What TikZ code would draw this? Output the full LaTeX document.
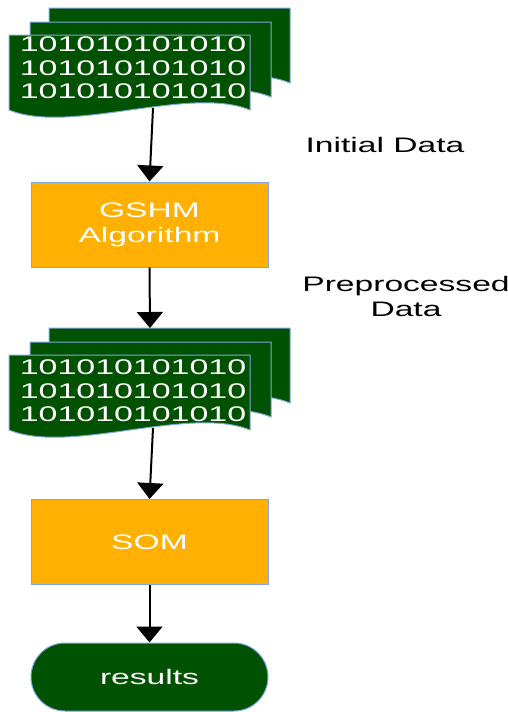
\documentclass[tikz,border=0pt]{standalone}
\usepackage{fontspec}
\usepackage{xcolor}
\usepackage{tikz}
\usetikzlibrary{positioning, arrows.meta}
\newfontfamily\widesans[FakeStretch=1.6]{Liberation Sans}
\definecolor{sheetgreen}{RGB}{0, 82, 0}
\definecolor{boxorange}{RGB}{255, 176, 0}
\definecolor{edgeblue}{RGB}{126, 166, 224}

\tikzset{
  sheet/.style={draw=edgeblue, line width=0.5pt, fill=sheetgreen},
  bits/.style={text=white, align=center, inner sep=0pt,
    font=\widesans\fontsize{10.6pt}{11.75pt}\selectfont},
  procbox/.style={draw=edgeblue, line width=0.5pt, fill=boxorange,
    minimum width=118.5pt, minimum height=42.5pt, text=white, align=center,
    font=\widesans\fontsize{10.5pt}{12.5pt}\selectfont},
  endbox/.style={draw=edgeblue, line width=0.5pt, fill=sheetgreen,
    rounded corners=17pt, minimum width=118.5pt, minimum height=34pt,
    text=white, font=\widesans\fontsize{10.5pt}{12.5pt}\selectfont},
  note/.style={align=center, font=\widesans\fontsize{10.5pt}{12.5pt}\selectfont},
  flow/.style={line width=1pt, -{Triangle[width=13pt,length=8pt]}}
}

\begin{document}
\begin{tikzpicture}[x=0.5pt, y=-0.5pt]
    \useasboundingbox (0,0) rectangle (508,712);

    % stacked data sheets
    \foreach \yoff/\name/\ty in {0/initdata/68, 320/prepdata/391} {
        \foreach \dx/\dy in {40/-27, 21/-13, 0/0} {
            \draw[sheet, shift={(\dx,\dy+\yoff)}] (9,35) -- (250,35) -- (250,110)
                .. controls (190,85) and (70,135) .. (9,110) -- cycle;
        }
        \node[bits] (\name) at (133,\ty) {101010101010\\101010101010\\101010101010};
        \coordinate (\name-top) at (150,8+\yoff);
        \coordinate (\name-foot) at (153,108+\yoff);
    }

    \node[procbox] (gshm) at (149.5,224.5) {GSHM\\Algorithm};
    \node[procbox] (som) at (149.5,542) {SOM};
    \node[endbox] (results) at (149.5,677) {results};

    \node[note] (initlabel) at (385,145) {Initial Data};
    \node[note] (preplabel) at (406,296) {Preprocessed\\Data};

    \draw[flow] (initdata-foot) -- (gshm.north);
    \draw[flow] (gshm.south) -- (prepdata-top);
    \draw[flow] (prepdata-foot) -- (som.north);
    \draw[flow] (som.south) -- (results.north);
\end{tikzpicture}
\end{document}
